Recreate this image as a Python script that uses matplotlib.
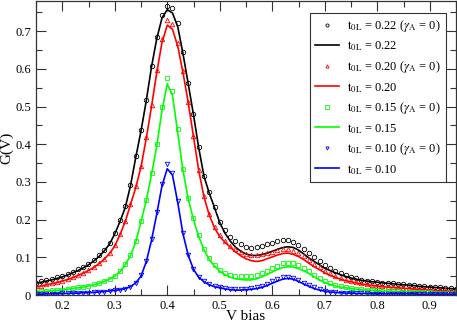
import numpy as np
import matplotlib
matplotlib.use("Agg")
import matplotlib.pyplot as plt
from matplotlib.ticker import MultipleLocator, FormatStrFormatter

plt.rcParams['font.family'] = ['Liberation Serif', 'DejaVu Serif']
plt.rcParams['mathtext.fontset'] = 'stix'

# bias grid, 0.15 .. 0.95 in steps of 0.01
v_bias = np.linspace(0.15, 0.95, 81)

g22_line = [0.031, 0.034, 0.037, 0.040, 0.044, 0.048, 0.053, 0.059, 0.065, 0.072,
            0.080, 0.090, 0.102, 0.117, 0.135, 0.162, 0.195, 0.232, 0.290, 0.365,
            0.435, 0.515, 0.605, 0.680, 0.735, 0.757, 0.748, 0.712, 0.640, 0.560,
            0.478, 0.390, 0.315, 0.270, 0.232, 0.192, 0.164, 0.143, 0.127, 0.116,
            0.109, 0.105, 0.105, 0.107, 0.111, 0.116, 0.121, 0.126, 0.128, 0.126,
            0.119, 0.109, 0.098, 0.089, 0.080, 0.071, 0.065, 0.059, 0.054, 0.049,
            0.045, 0.042, 0.039, 0.037, 0.035, 0.034, 0.032, 0.031, 0.030, 0.028,
            0.027, 0.026, 0.025, 0.023, 0.022, 0.021, 0.020, 0.019, 0.018, 0.017,
            0.016]
g22_ga0 = [0.033, 0.036, 0.039, 0.043, 0.047, 0.051, 0.056, 0.062, 0.068, 0.075,
           0.083, 0.093, 0.105, 0.120, 0.138, 0.165, 0.198, 0.236, 0.293, 0.368,
           0.438, 0.518, 0.608, 0.684, 0.742, 0.768, 0.762, 0.722, 0.645, 0.563,
           0.480, 0.392, 0.317, 0.272, 0.234, 0.195, 0.172, 0.155, 0.143, 0.134,
           0.128, 0.126, 0.127, 0.130, 0.134, 0.138, 0.142, 0.145, 0.145, 0.140,
           0.133, 0.123, 0.112, 0.100, 0.089, 0.080, 0.072, 0.065, 0.058, 0.052,
           0.048, 0.044, 0.041, 0.038, 0.036, 0.035, 0.033, 0.032, 0.031, 0.029,
           0.028, 0.027, 0.026, 0.024, 0.023, 0.022, 0.021, 0.020, 0.019, 0.018,
           0.017]

g20_line = [0.022, 0.024, 0.027, 0.030, 0.033, 0.037, 0.041, 0.046, 0.052, 0.058,
            0.065, 0.073, 0.083, 0.095, 0.110, 0.130, 0.160, 0.195, 0.240, 0.285,
            0.340, 0.415, 0.500, 0.590, 0.670, 0.716, 0.705, 0.660, 0.590, 0.510,
            0.420, 0.330, 0.260, 0.212, 0.178, 0.155, 0.140, 0.127, 0.114, 0.104,
            0.096, 0.091, 0.089, 0.091, 0.096, 0.101, 0.106, 0.110, 0.111, 0.108,
            0.102, 0.094, 0.084, 0.075, 0.067, 0.059, 0.052, 0.047, 0.042, 0.038,
            0.035, 0.032, 0.029, 0.027, 0.025, 0.024, 0.022, 0.021, 0.020, 0.019,
            0.018, 0.017, 0.016, 0.015, 0.014, 0.013, 0.012, 0.011, 0.011, 0.010,
            0.009]
g20_ga0 = [0.023, 0.025, 0.028, 0.031, 0.034, 0.038, 0.042, 0.047, 0.053, 0.059,
           0.066, 0.074, 0.084, 0.096, 0.112, 0.132, 0.162, 0.197, 0.242, 0.288,
           0.343, 0.418, 0.505, 0.596, 0.680, 0.730, 0.720, 0.668, 0.595, 0.513,
           0.422, 0.332, 0.262, 0.214, 0.180, 0.158, 0.143, 0.131, 0.121, 0.113,
           0.108, 0.106, 0.106, 0.108, 0.111, 0.115, 0.119, 0.122, 0.122, 0.118,
           0.112, 0.103, 0.093, 0.083, 0.074, 0.065, 0.058, 0.051, 0.046, 0.041,
           0.037, 0.034, 0.031, 0.029, 0.026, 0.025, 0.023, 0.022, 0.021, 0.020,
           0.019, 0.018, 0.017, 0.016, 0.015, 0.014, 0.013, 0.012, 0.012, 0.011,
           0.010]

g15_line = [0.008, 0.009, 0.010, 0.011, 0.012, 0.013, 0.015, 0.017, 0.019, 0.021,
            0.024, 0.027, 0.031, 0.036, 0.042, 0.050, 0.062, 0.080, 0.105, 0.140,
            0.195, 0.250, 0.320, 0.395, 0.490, 0.560, 0.530, 0.430, 0.330, 0.255,
            0.200, 0.155, 0.120, 0.094, 0.077, 0.063, 0.054, 0.047, 0.043, 0.041,
            0.040, 0.040, 0.043, 0.048, 0.054, 0.061, 0.068, 0.073, 0.075, 0.074,
            0.070, 0.064, 0.057, 0.048, 0.040, 0.033, 0.028, 0.024, 0.021, 0.019,
            0.017, 0.015, 0.014, 0.013, 0.012, 0.011, 0.010, 0.010, 0.009, 0.009,
            0.008, 0.008, 0.007, 0.007, 0.006, 0.006, 0.005, 0.005, 0.005, 0.004,
            0.004]
g15_ga0 = [0.009, 0.010, 0.011, 0.012, 0.013, 0.014, 0.016, 0.018, 0.020, 0.022,
           0.025, 0.028, 0.032, 0.037, 0.043, 0.051, 0.063, 0.081, 0.107, 0.142,
           0.197, 0.253, 0.324, 0.400, 0.500, 0.575, 0.540, 0.440, 0.335, 0.258,
           0.203, 0.158, 0.123, 0.097, 0.080, 0.066, 0.058, 0.053, 0.051, 0.050,
           0.050, 0.050, 0.053, 0.058, 0.064, 0.071, 0.078, 0.084, 0.086, 0.084,
           0.079, 0.072, 0.063, 0.054, 0.045, 0.037, 0.031, 0.026, 0.023, 0.020,
           0.018, 0.016, 0.015, 0.014, 0.013, 0.012, 0.011, 0.011, 0.010, 0.010,
           0.009, 0.009, 0.008, 0.008, 0.007, 0.007, 0.006, 0.006, 0.006, 0.005,
           0.005]

g10_line = [0.002, 0.002, 0.003, 0.003, 0.003, 0.004, 0.004, 0.005, 0.005, 0.006,
            0.006, 0.007, 0.008, 0.009, 0.011, 0.012, 0.014, 0.017, 0.022, 0.032,
            0.050, 0.088, 0.145, 0.215, 0.290, 0.335, 0.318, 0.245, 0.162, 0.105,
            0.068, 0.047, 0.035, 0.027, 0.022, 0.019, 0.016, 0.014, 0.013, 0.013,
            0.014, 0.015, 0.017, 0.020, 0.025, 0.031, 0.037, 0.042, 0.044, 0.042,
            0.036, 0.029, 0.023, 0.017, 0.013, 0.010, 0.008, 0.007, 0.006, 0.005,
            0.005, 0.004, 0.004, 0.004, 0.003, 0.003, 0.003, 0.003, 0.003, 0.003,
            0.003, 0.003, 0.003, 0.002, 0.002, 0.002, 0.002, 0.002, 0.002, 0.002,
            0.002]
g10_ga0 = [0.002, 0.002, 0.003, 0.003, 0.003, 0.004, 0.004, 0.005, 0.005, 0.006,
           0.006, 0.007, 0.008, 0.009, 0.011, 0.012, 0.014, 0.017, 0.022, 0.033,
           0.052, 0.090, 0.148, 0.220, 0.295, 0.348, 0.325, 0.250, 0.165, 0.107,
           0.070, 0.049, 0.037, 0.029, 0.023, 0.020, 0.018, 0.016, 0.015, 0.015,
           0.016, 0.018, 0.021, 0.025, 0.030, 0.036, 0.043, 0.048, 0.049, 0.046,
           0.040, 0.033, 0.026, 0.020, 0.015, 0.011, 0.009, 0.007, 0.006, 0.005,
           0.005, 0.004, 0.004, 0.004, 0.003, 0.003, 0.003, 0.003, 0.003, 0.003,
           0.003, 0.003, 0.003, 0.002, 0.002, 0.002, 0.002, 0.002, 0.002, 0.002,
           0.002]

t0l = ['0.22', '0.20', '0.15', '0.10']
colors = ['black', '#ff0000', '#00ff00', '#0000ff']
markers = ['o', '^', 's', 'v']
with_ga = [g22_ga0, g20_ga0, g15_ga0, g10_ga0]
lines = [g22_line, g20_line, g15_line, g10_line]

fig = plt.figure(figsize=(4.57, 3.23), dpi=100)
ax = fig.add_axes([36 / 457, 28 / 323, 420 / 457, 294 / 323])

for i in range(4):
    ax.plot(v_bias, with_ga[i], ls='none', marker=markers[i], ms=3.2, mew=0.6,
            mfc='none', mec=colors[i],
            label=r'$\mathrm{t_{0L}}$ = ' + t0l[i] + r' ($\gamma_\mathrm{A}$ = 0)')
    ax.plot(v_bias, lines[i], color=colors[i], lw=1.2,
            label=r'$\mathrm{t_{0L}}$ = ' + t0l[i])

ax.set_xlim(0.15, 0.95)
ax.set_ylim(0, 0.78)
ax.xaxis.set_major_locator(MultipleLocator(0.1))
ax.xaxis.set_minor_locator(MultipleLocator(0.05))
ax.yaxis.set_major_locator(MultipleLocator(0.1))
ax.yaxis.set_minor_locator(MultipleLocator(0.05))
ax.xaxis.set_major_formatter(FormatStrFormatter('%g'))
ax.yaxis.set_major_formatter(FormatStrFormatter('%g'))
ax.tick_params(which='both', direction='in', top=True, right=True, labelsize=9,
               width=0.8, color='#333333')
ax.tick_params(which='major', length=7)
ax.tick_params(which='minor', length=4)
for sp in ax.spines.values():
    sp.set_linewidth(0.9)
    sp.set_color('#333333')

ax.set_xlabel('V bias', fontsize=11, labelpad=-1)
ax.set_ylabel('G(V)', fontsize=11, labelpad=1)

leg = ax.legend(loc='upper right', bbox_to_anchor=(0.976, 0.959), borderaxespad=0,
                fontsize=9, fancybox=False, edgecolor='#333333', framealpha=1,
                handlelength=1.9, handletextpad=0.7, labelspacing=0.45,
                markerscale=0.7, borderpad=0.4)
leg.get_frame().set_linewidth(0.8)

fig.savefig('out.png', dpi=100)
